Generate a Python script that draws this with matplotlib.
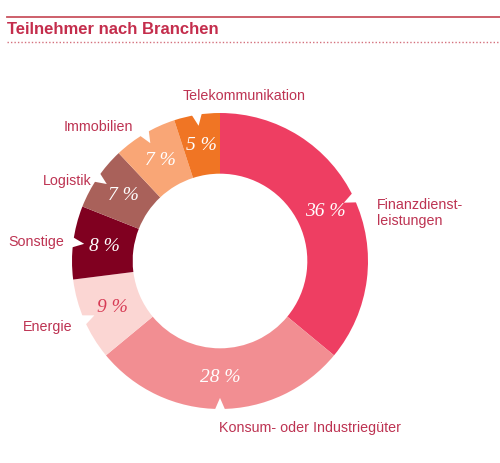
import numpy as np
import matplotlib
matplotlib.use("Agg")
import matplotlib.pyplot as plt
from matplotlib.patches import Polygon
from matplotlib.lines import Line2D

# ---- data ----
categories = ["Finanzdienst-\nleistungen", "Konsum- oder Industriegüter", "Energie",
              "Sonstige", "Logistik", "Immobilien", "Telekommunikation"]
values = [36, 28, 9, 8, 7, 7, 5]
pct_labels = ["36 %", "28 %", "9 %", "8 %", "7 %", "7 %", "5 %"]
colors = ["#EE3E62", "#F28E92", "#FBD6D3", "#800020", "#A9615A", "#F9A676", "#F07524"]
pct_colors = ["white", "white", "#D73B55", "white", "white", "white", "white"]
title = "Teilnehmer nach Branchen"

W, H = 500, 463
fig = plt.figure(figsize=(W / 100, H / 100), dpi=100)

cx, cy, R = 220, 261, 148  # pixel geometry of the donut
ax = fig.add_axes([(cx - R) / W, (H - cy - R) / H, 2 * R / W, 2 * R / H])
ax.axis("off")

width = 0.41
wedges, _ = ax.pie(values, colors=colors, startangle=90, counterclock=False,
                   radius=1.0, wedgeprops=dict(width=width, linewidth=0))
ax.set_xlim(-1, 1)
ax.set_ylim(-1, 1)
ax.set_aspect("equal")

lab_col = "#BD3352"
# label positions in pixel coords (label placement)
label_pos = [(377, 213, "left"), (310, 428, "center"), (72, 327, "right"),
             (64, 242, "right"), (92, 181, "right"), (133, 127, "right"),
             (244, 96, "center")]


def px2d(px, py):
    return (px - cx) / R, (cy - py) / R


for w, val, pl, pc, cat, (lx, ly, ha) in zip(wedges, values, pct_labels, pct_colors,
                                            categories, label_pos):
    mid = np.deg2rad((w.theta1 + w.theta2) / 2)
    # notch at outer edge
    d = 0.075
    half = np.deg2rad(2.3)
    pts = [(1.02 * np.cos(mid - half), 1.02 * np.sin(mid - half)),
           ((1 - d) * np.cos(mid), (1 - d) * np.sin(mid)),
           (1.02 * np.cos(mid + half), 1.02 * np.sin(mid + half))]
    ax.add_patch(Polygon(pts, closed=True, facecolor="white", edgecolor="none",
                         zorder=3, clip_on=False))
    r = 0.79
    ax.text(r * np.cos(mid), r * np.sin(mid), pl, ha="center", va="center",
            fontsize=14, style="italic", family="Liberation Serif", color=pc, zorder=4)
    x, y = px2d(lx, ly)
    ax.text(x, y, cat, ha=ha, va="center", fontsize=10.3, family="Liberation Sans",
            color=lab_col, clip_on=False, linespacing=1.2)

# title and rules
fig.text(7 / W, 1 - 30 / H, title, ha="left", va="center", fontsize=12,
         fontweight="bold", family="Liberation Sans", color="#C42D4C")
fig.add_artist(Line2D([7 / W, 1], [1 - 17 / H, 1 - 17 / H], color="#C9535F", lw=1.3))
fig.add_artist(Line2D([7 / W, 1], [1 - 42 / H, 1 - 42 / H], color="#D4707C", lw=1.0,
                      linestyle=(0, (1, 1.5))))

fig.savefig("out.png", dpi=100)
